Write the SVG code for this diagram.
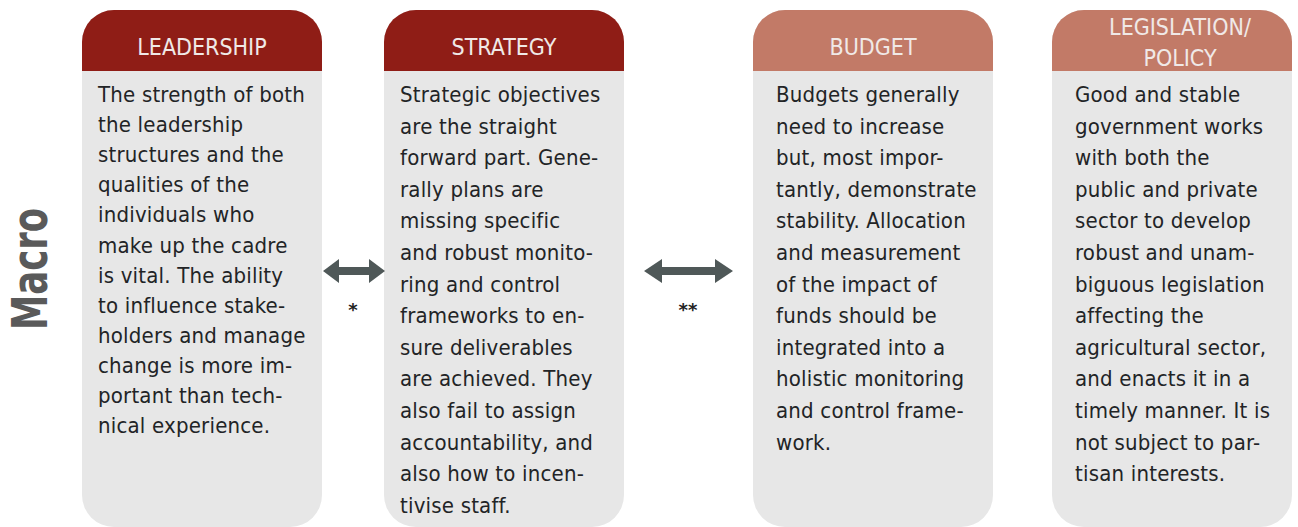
<svg xmlns="http://www.w3.org/2000/svg" width="1298" height="527" viewBox="0 0 1298 527">
<style>
.body{fill:#e7e7e7}
.hd1{fill:#8f1d16}
.hd2{fill:#c27a67}
.ht{font-family:"DejaVu Sans Condensed","DejaVu Sans",sans-serif;font-stretch:condensed;font-size:23px;fill:#f0e9e7;text-anchor:middle}
.bt{font-family:"DejaVu Sans Condensed","DejaVu Sans",sans-serif;font-stretch:condensed;font-size:22px;fill:#222426;letter-spacing:0.2px}
.arrow{fill:#4f5858}
.star{font-family:"DejaVu Sans",sans-serif;font-size:18px;fill:#222;text-anchor:middle;font-weight:bold}
.macro{font-family:"DejaVu Sans Condensed","DejaVu Sans",sans-serif;font-stretch:condensed;font-weight:bold;font-size:50px;fill:#5a5a5a;text-anchor:middle}
</style>

<text class="macro" transform="translate(47,269) rotate(-90)" textLength="122" lengthAdjust="spacingAndGlyphs">Macro</text>

<g id="leadership">
<rect class="body" x="82" y="10" width="240" height="517" rx="32"/>
<path class="hd1" d="M82,71 V42 A32,32 0 0 1 114,10 H290 A32,32 0 0 1 322,42 V71 Z"/>
<text class="ht" x="202" y="55">LEADERSHIP</text>
<text class="bt">
<tspan x="98" y="102">The strength of both</tspan>
<tspan x="98" y="132.1">the leadership</tspan>
<tspan x="98" y="162.2">structures and the</tspan>
<tspan x="98" y="192.3">qualities of the</tspan>
<tspan x="98" y="222.4">individuals who</tspan>
<tspan x="98" y="252.5">make up the cadre</tspan>
<tspan x="98" y="282.6">is vital. The ability</tspan>
<tspan x="98" y="312.7">to influence stake-</tspan>
<tspan x="98" y="342.8">holders and manage</tspan>
<tspan x="98" y="372.9">change is more im-</tspan>
<tspan x="98" y="403">portant than tech-</tspan>
<tspan x="98" y="433.1">nical experience.</tspan>
</text>
</g>

<g id="strategy">
<rect class="body" x="384" y="10" width="240" height="517" rx="32"/>
<path class="hd1" d="M384,71 V42 A32,32 0 0 1 416,10 H592 A32,32 0 0 1 624,42 V71 Z"/>
<text class="ht" x="504" y="55">STRATEGY</text>
<text class="bt">
<tspan x="400" y="102">Strategic objectives</tspan>
<tspan x="400" y="133.6">are the straight</tspan>
<tspan x="400" y="165.2">forward part. Gene-</tspan>
<tspan x="400" y="196.8">rally plans are</tspan>
<tspan x="400" y="228.4">missing specific</tspan>
<tspan x="400" y="260">and robust monito-</tspan>
<tspan x="400" y="291.6">ring and control</tspan>
<tspan x="400" y="323.2">frameworks to en-</tspan>
<tspan x="400" y="354.8">sure deliverables</tspan>
<tspan x="400" y="386.4">are achieved. They</tspan>
<tspan x="400" y="418">also fail to assign</tspan>
<tspan x="400" y="449.6">accountability, and</tspan>
<tspan x="400" y="481.2">also how to incen-</tspan>
<tspan x="400" y="512.8">tivise staff.</tspan>
</text>
</g>

<g id="budget">
<rect class="body" x="753" y="10" width="240" height="517" rx="32"/>
<path class="hd2" d="M753,71 V42 A32,32 0 0 1 785,10 H961 A32,32 0 0 1 993,42 V71 Z"/>
<text class="ht" x="873" y="55">BUDGET</text>
<text class="bt">
<tspan x="776" y="102">Budgets generally</tspan>
<tspan x="776" y="133.6">need to increase</tspan>
<tspan x="776" y="165.2">but, most impor-</tspan>
<tspan x="776" y="196.8">tantly, demonstrate</tspan>
<tspan x="776" y="228.4">stability. Allocation</tspan>
<tspan x="776" y="260">and measurement</tspan>
<tspan x="776" y="291.6">of the impact of</tspan>
<tspan x="776" y="323.2">funds should be</tspan>
<tspan x="776" y="354.8">integrated into a</tspan>
<tspan x="776" y="386.4">holistic monitoring</tspan>
<tspan x="776" y="418">and control frame-</tspan>
<tspan x="776" y="449.6">work.</tspan>
</text>
</g>

<g id="legislation">
<rect class="body" x="1052" y="10" width="240" height="517" rx="32"/>
<path class="hd2" d="M1052,71 V42 A32,32 0 0 1 1084,10 H1260 A32,32 0 0 1 1292,42 V71 Z"/>
<text class="ht" x="1180" y="35">LEGISLATION/</text>
<text class="ht" x="1180" y="66">POLICY</text>
<text class="bt">
<tspan x="1075" y="102">Good and stable</tspan>
<tspan x="1075" y="133.6">government works</tspan>
<tspan x="1075" y="165.2">with both the</tspan>
<tspan x="1075" y="196.8">public and private</tspan>
<tspan x="1075" y="228.4">sector to develop</tspan>
<tspan x="1075" y="260">robust and unam-</tspan>
<tspan x="1075" y="291.6">biguous legislation</tspan>
<tspan x="1075" y="323.2">affecting the</tspan>
<tspan x="1075" y="354.8">agricultural sector,</tspan>
<tspan x="1075" y="386.4">and enacts it in a</tspan>
<tspan x="1075" y="418">timely manner. It is</tspan>
<tspan x="1075" y="449.6">not subject to par-</tspan>
<tspan x="1075" y="481.2">tisan interests.</tspan>
</text>
</g>

<g id="connectors">
<path class="arrow" d="M323,271 L339,259 V267 H369 V259 L385,271 L369,283 V275 H339 V283 Z"/>
<text class="star" x="353" y="316">*</text>
<path class="arrow" d="M644,271 L662,259 V267 H715 V259 L733,271 L715,283 V275 H662 V283 Z"/>
<text class="star" x="688" y="316">**</text>
</g>
</svg>
